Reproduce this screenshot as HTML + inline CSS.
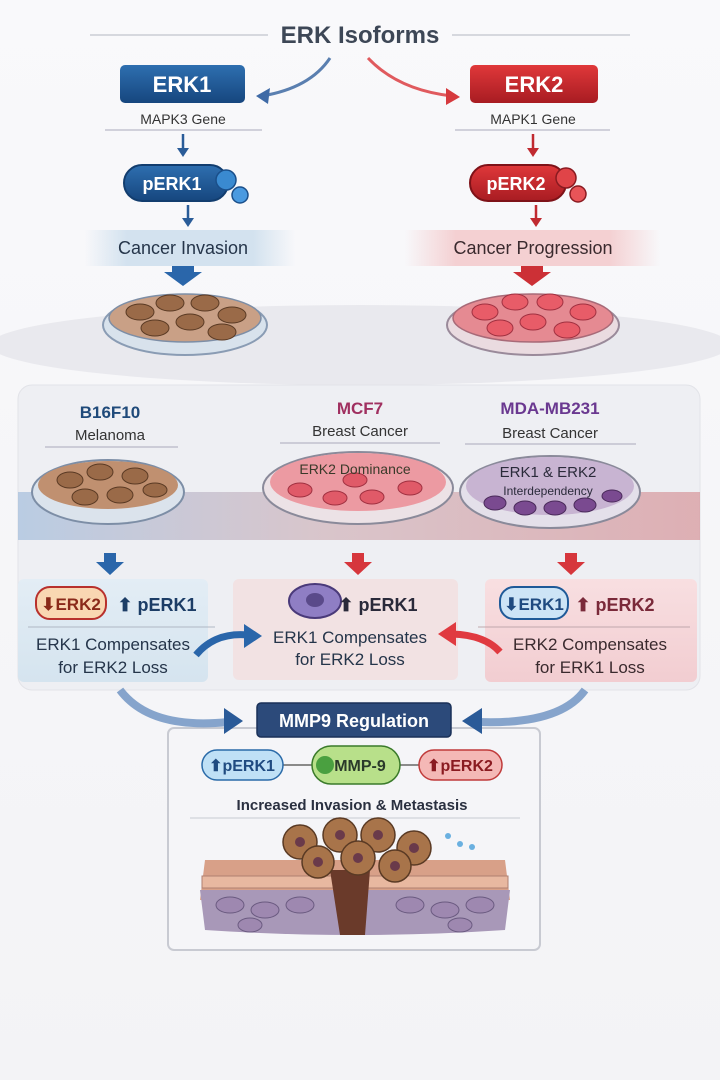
<!DOCTYPE html>
<html><head><meta charset="utf-8"><style>
html,body{margin:0;padding:0;background:#f7f7f9;}
svg{display:block;font-family:"Liberation Sans",sans-serif;}
</style></head><body>
<svg width="720" height="1080" viewBox="0 0 720 1080" xmlns="http://www.w3.org/2000/svg">
<defs>
<linearGradient id="bg" x1="0" y1="0" x2="0" y2="1"><stop offset="0" stop-color="#f9f9fb"/><stop offset="1" stop-color="#f3f3f6"/></linearGradient>
<linearGradient id="blueBtn" x1="0" y1="0" x2="0" y2="1"><stop offset="0" stop-color="#2e6fb0"/><stop offset="1" stop-color="#16467e"/></linearGradient>
<linearGradient id="redBtn" x1="0" y1="0" x2="0" y2="1"><stop offset="0" stop-color="#e0383a"/><stop offset="1" stop-color="#a81c22"/></linearGradient>
<linearGradient id="bandB" x1="0" y1="0" x2="1" y2="0"><stop offset="0" stop-color="#d3e2ef" stop-opacity="0"/><stop offset="0.2" stop-color="#d3e2ef"/><stop offset="0.8" stop-color="#d3e2ef"/><stop offset="1" stop-color="#d3e2ef" stop-opacity="0"/></linearGradient>
<linearGradient id="bandR" x1="0" y1="0" x2="1" y2="0"><stop offset="0" stop-color="#f4d0d2" stop-opacity="0"/><stop offset="0.2" stop-color="#f4d0d2"/><stop offset="0.8" stop-color="#f4d0d2"/><stop offset="1" stop-color="#f4d0d2" stop-opacity="0"/></linearGradient>
<linearGradient id="tex" x1="0" y1="0" x2="1" y2="0"><stop offset="0" stop-color="#8fb0d6"/><stop offset="0.45" stop-color="#c8a3aa"/><stop offset="1" stop-color="#d07b80"/></linearGradient>
<linearGradient id="boxL" x1="0" y1="0" x2="0" y2="1"><stop offset="0" stop-color="#e3edf5"/><stop offset="1" stop-color="#d5e4ef"/></linearGradient>
<linearGradient id="boxR" x1="0" y1="0" x2="0" y2="1"><stop offset="0" stop-color="#f8dfe1"/><stop offset="1" stop-color="#f2cdd1"/></linearGradient>
</defs>
<rect width="720" height="1080" fill="url(#bg)"/>

<!-- title -->
<line x1="90" y1="35" x2="268" y2="35" stroke="#d6d8de" stroke-width="2"/>
<line x1="452" y1="35" x2="630" y2="35" stroke="#d6d8de" stroke-width="2"/>
<text x="360" y="43" text-anchor="middle" font-size="24" font-weight="bold" fill="#3d4756">ERK Isoforms</text>
<path d="M330 58 Q310 88 262 96" fill="none" stroke="#5a7fb0" stroke-width="3"/>
<polygon points="256,96 270,88 268,104" fill="#3f6aa6"/>
<path d="M368 58 Q398 90 452 96" fill="none" stroke="#e05a5e" stroke-width="3"/>
<polygon points="460,97 446,88 446,105" fill="#d63a3e"/>

<!-- ERK1/ERK2 -->
<rect x="120" y="65" width="125" height="38" rx="5" fill="url(#blueBtn)"/>
<text x="182" y="92" text-anchor="middle" font-size="22" font-weight="bold" fill="#fff">ERK1</text>
<rect x="470" y="65" width="128" height="38" rx="5" fill="url(#redBtn)"/>
<text x="534" y="92" text-anchor="middle" font-size="22" font-weight="bold" fill="#fff">ERK2</text>
<text x="183" y="124" text-anchor="middle" font-size="14" fill="#333">MAPK3 Gene</text>
<line x1="105" y1="130" x2="262" y2="130" stroke="#aab" stroke-width="1"/>
<text x="533" y="124" text-anchor="middle" font-size="14" fill="#333">MAPK1 Gene</text>
<line x1="455" y1="130" x2="610" y2="130" stroke="#aab" stroke-width="1"/>
<line x1="183" y1="134" x2="183" y2="150" stroke="#2a5c98" stroke-width="2.5"/><polygon points="177,148 189,148 183,157" fill="#2a5c98"/>
<line x1="533" y1="134" x2="533" y2="150" stroke="#c02a30" stroke-width="2.5"/><polygon points="527,148 539,148 533,157" fill="#c02a30"/>

<!-- pERK -->
<rect x="124" y="165" width="104" height="36" rx="18" fill="url(#blueBtn)" stroke="#123d6e" stroke-width="2"/>
<text x="172" y="190" text-anchor="middle" font-size="18" font-weight="bold" fill="#fff">pERK1</text>
<circle cx="226" cy="180" r="10" fill="#3a8ad0" stroke="#1a4f8a" stroke-width="1.5"/>
<circle cx="240" cy="195" r="8" fill="#4a9ae0" stroke="#1a4f8a" stroke-width="1.5"/>
<rect x="470" y="165" width="96" height="36" rx="18" fill="url(#redBtn)" stroke="#7e1218" stroke-width="2"/>
<text x="516" y="190" text-anchor="middle" font-size="18" font-weight="bold" fill="#fff">pERK2</text>
<circle cx="566" cy="178" r="10" fill="#e04448" stroke="#8a1a20" stroke-width="1.5"/>
<circle cx="578" cy="194" r="8" fill="#e85458" stroke="#8a1a20" stroke-width="1.5"/>
<line x1="188" y1="205" x2="188" y2="220" stroke="#2a5c98" stroke-width="2.5"/><polygon points="182,218 194,218 188,227" fill="#2a5c98"/>
<line x1="536" y1="205" x2="536" y2="220" stroke="#c02a30" stroke-width="2.5"/><polygon points="530,218 542,218 536,227" fill="#c02a30"/>

<!-- bands -->
<rect x="85" y="230" width="210" height="36" fill="url(#bandB)"/>
<text x="183" y="254" text-anchor="middle" font-size="18" fill="#25354a">Cancer Invasion</text>
<rect x="405" y="230" width="255" height="36" fill="url(#bandR)"/>
<text x="533" y="254" text-anchor="middle" font-size="18" fill="#3a2a2e">Cancer Progression</text>
<polygon points="172,266 194,266 194,272 202,272 183,286 164,272 172,272" fill="#2a66aa"/>
<polygon points="521,266 543,266 543,272 551,272 532,286 513,272 521,272" fill="#cc3036"/>

<!-- dish band -->
<ellipse cx="360" cy="345" rx="370" ry="40" fill="#e9e9ee"/>
<ellipse cx="185" cy="325" rx="82" ry="30" fill="#d8e2ec" stroke="#8a9cb4" stroke-width="2"/>
<ellipse cx="185" cy="318" rx="76" ry="24" fill="#c9a086" stroke="#7d8ea6" stroke-width="1.5"/>
<g fill="#9a6a48" stroke="#5a3a24" stroke-width="1">
<ellipse cx="140" cy="312" rx="14" ry="8"/><ellipse cx="170" cy="303" rx="14" ry="8"/><ellipse cx="205" cy="303" rx="14" ry="8"/><ellipse cx="232" cy="315" rx="14" ry="8"/><ellipse cx="155" cy="328" rx="14" ry="8"/><ellipse cx="190" cy="322" rx="14" ry="8"/><ellipse cx="222" cy="332" rx="14" ry="8"/></g>
<ellipse cx="533" cy="325" rx="86" ry="30" fill="#eadbe0" stroke="#9a8a9a" stroke-width="2"/>
<ellipse cx="533" cy="318" rx="80" ry="24" fill="#e58a92" stroke="#a86a78" stroke-width="1.5"/>
<g fill="#e85c68" stroke="#a03040" stroke-width="1">
<ellipse cx="485" cy="312" rx="13" ry="8"/><ellipse cx="515" cy="302" rx="13" ry="8"/><ellipse cx="550" cy="302" rx="13" ry="8"/><ellipse cx="583" cy="312" rx="13" ry="8"/><ellipse cx="500" cy="328" rx="13" ry="8"/><ellipse cx="533" cy="322" rx="13" ry="8"/><ellipse cx="567" cy="330" rx="13" ry="8"/></g>

<!-- panel -->
<rect x="18" y="385" width="682" height="305" rx="14" fill="#eeeff3" stroke="#e2e3e8"/>
<text x="110" y="418" text-anchor="middle" font-size="17" font-weight="bold" fill="#1f4a7a">B16F10</text>
<text x="110" y="440" text-anchor="middle" font-size="15" fill="#333">Melanoma</text>
<line x1="45" y1="447" x2="178" y2="447" stroke="#aab" />
<text x="360" y="414" text-anchor="middle" font-size="17" font-weight="bold" fill="#a03060">MCF7</text>
<text x="360" y="436" text-anchor="middle" font-size="15" fill="#333">Breast Cancer</text>
<line x1="280" y1="443" x2="440" y2="443" stroke="#aab" />
<text x="550" y="414" text-anchor="middle" font-size="17" font-weight="bold" fill="#6a3890">MDA-MB231</text>
<text x="550" y="438" text-anchor="middle" font-size="15" fill="#333">Breast Cancer</text>
<line x1="465" y1="444" x2="636" y2="444" stroke="#aab" />
<rect x="18" y="492" width="682" height="48" fill="url(#tex)" opacity="0.55"/>
<ellipse cx="108" cy="492" rx="76" ry="32" fill="#dbe3ec" stroke="#7d8ea6" stroke-width="2"/>
<ellipse cx="108" cy="485" rx="70" ry="24" fill="#c09070"/>
<g fill="#9a6a48" stroke="#5a3a24"><ellipse cx="70" cy="480" rx="13" ry="8"/><ellipse cx="100" cy="472" rx="13" ry="8"/><ellipse cx="135" cy="476" rx="13" ry="8"/><ellipse cx="85" cy="497" rx="13" ry="8"/><ellipse cx="120" cy="495" rx="13" ry="8"/><ellipse cx="155" cy="490" rx="12" ry="7"/></g>
<ellipse cx="358" cy="488" rx="95" ry="36" fill="#ece2e6" stroke="#8a8a9a" stroke-width="2"/>
<ellipse cx="358" cy="482" rx="88" ry="29" fill="#ec9aa2"/>
<g fill="#e05a68" stroke="#a03040"><ellipse cx="300" cy="490" rx="12" ry="7"/><ellipse cx="335" cy="498" rx="12" ry="7"/><ellipse cx="372" cy="497" rx="12" ry="7"/><ellipse cx="410" cy="488" rx="12" ry="7"/><ellipse cx="355" cy="480" rx="12" ry="7"/></g>
<text x="355" y="474" text-anchor="middle" font-size="14" fill="#3a3a2a">ERK2 Dominance</text>
<ellipse cx="550" cy="492" rx="90" ry="36" fill="#e4e0ea" stroke="#8a8a9a" stroke-width="2"/>
<ellipse cx="550" cy="486" rx="84" ry="29" fill="#c8b4d2"/>
<g fill="#7a4a90" stroke="#4a2a5a"><ellipse cx="495" cy="503" rx="11" ry="7"/><ellipse cx="525" cy="508" rx="11" ry="7"/><ellipse cx="555" cy="508" rx="11" ry="7"/><ellipse cx="585" cy="505" rx="11" ry="7"/><ellipse cx="612" cy="496" rx="10" ry="6"/></g>
<text x="548" y="477" text-anchor="middle" font-size="15" fill="#2a2a3a">ERK1 &amp; ERK2</text>
<text x="548" y="495" text-anchor="middle" font-size="12" fill="#2a2a3a">Interdependency</text>
<polygon points="104,553 116,553 116,562 124,562 110,575 96,562 104,562" fill="#2a66aa"/>
<polygon points="352,553 364,553 364,562 372,562 358,575 344,562 352,562" fill="#d6363c"/>
<polygon points="565,553 577,553 577,562 585,562 571,575 557,562 565,562" fill="#d6363c"/>

<!-- boxes -->
<rect x="18" y="579" width="190" height="103" rx="6" fill="url(#boxL)"/>
<rect x="36" y="587" width="70" height="32" rx="14" fill="#f9d7b2" stroke="#b8302c" stroke-width="2"/>
<text x="71" y="610" text-anchor="middle" font-size="17" font-weight="bold" fill="#8a2a1a">⬇ERK2</text>
<text x="157" y="611" text-anchor="middle" font-size="18" font-weight="bold" fill="#1c3d66">⬆ pERK1</text>
<line x1="28" y1="627" x2="215" y2="627" stroke="#b0b8c4"/>
<text x="113" y="650" text-anchor="middle" font-size="17" fill="#25354a">ERK1 Compensates</text>
<text x="113" y="673" text-anchor="middle" font-size="17" fill="#25354a">for ERK2 Loss</text>
<rect x="233" y="579" width="225" height="101" rx="6" fill="#f2e2e3"/>
<ellipse cx="315" cy="601" rx="26" ry="17" fill="#8f7ec4" stroke="#4a3a7a" stroke-width="2"/>
<ellipse cx="315" cy="600" rx="9" ry="7" fill="#5a4a8a"/>
<text x="378" y="611" text-anchor="middle" font-size="18" font-weight="bold" fill="#2a2a3a">⬆ pERK1</text>
<text x="350" y="643" text-anchor="middle" font-size="17" fill="#25354a">ERK1 Compensates</text>
<text x="350" y="665" text-anchor="middle" font-size="17" fill="#25354a">for ERK2 Loss</text>
<rect x="485" y="579" width="212" height="103" rx="6" fill="url(#boxR)"/>
<rect x="500" y="587" width="68" height="32" rx="14" fill="#cde4f6" stroke="#1f5a98" stroke-width="2"/>
<text x="534" y="610" text-anchor="middle" font-size="17" font-weight="bold" fill="#1f4a80">⬇ERK1</text>
<text x="615" y="611" text-anchor="middle" font-size="18" font-weight="bold" fill="#7a2a3a">⬆ pERK2</text>
<line x1="478" y1="627" x2="690" y2="627" stroke="#c0a8ac"/>
<text x="590" y="650" text-anchor="middle" font-size="17" fill="#3a2a2e">ERK2 Compensates</text>
<text x="590" y="673" text-anchor="middle" font-size="17" fill="#3a2a2e">for ERK1 Loss</text>
<path d="M196 655 Q215 632 248 635" fill="none" stroke="#2a66aa" stroke-width="7"/>
<polygon points="262,636 244,624 244,648" fill="#2a66aa"/>
<path d="M500 652 Q485 635 452 634" fill="none" stroke="#e03a40" stroke-width="7"/>
<polygon points="438,634 456,622 456,646" fill="#e03a40"/>

<!-- MMP9 -->
<rect x="168" y="728" width="372" height="222" rx="6" fill="#f5f5f8" stroke="#c8cad2" stroke-width="2"/>
<path d="M120 690 Q150 730 228 722" fill="none" stroke="#6a90c0" stroke-width="8" opacity="0.8"/>
<polygon points="243,721 224,708 224,734" fill="#2a5a98"/>
<path d="M585 690 Q560 725 478 722" fill="none" stroke="#6a90c0" stroke-width="8" opacity="0.8"/>
<polygon points="462,721 482,708 482,734" fill="#2a5a98"/>
<rect x="257" y="703" width="194" height="34" rx="4" fill="#2c4a7a" stroke="#1a3058" stroke-width="1.5"/>
<text x="354" y="727" text-anchor="middle" font-size="18" font-weight="bold" fill="#fff">MMP9 Regulation</text>
<line x1="280" y1="765" x2="420" y2="765" stroke="#666" stroke-width="1.5"/>
<rect x="202" y="750" width="81" height="30" rx="15" fill="#bfe0f6" stroke="#2a6aa8" stroke-width="1.5"/>
<text x="242" y="771" text-anchor="middle" font-size="16" font-weight="bold" fill="#1f4a80">⬆pERK1</text>
<rect x="312" y="746" width="88" height="38" rx="19" fill="#b8e08a" stroke="#3a7a2a" stroke-width="1.5"/>
<circle cx="325" cy="765" r="9" fill="#4aa040"/>
<text x="360" y="771" text-anchor="middle" font-size="16" font-weight="bold" fill="#2a3a2a">MMP-9</text>
<rect x="419" y="750" width="83" height="30" rx="15" fill="#f4b8b6" stroke="#c03a3a" stroke-width="1.5"/>
<text x="460" y="771" text-anchor="middle" font-size="16" font-weight="bold" fill="#8a1a20">⬆pERK2</text>
<text x="352" y="810" text-anchor="middle" font-size="15" font-weight="bold" fill="#2a3040">Increased Invasion &amp; Metastasis</text>
<line x1="190" y1="818" x2="520" y2="818" stroke="#c8cad2"/>

<!-- tissue -->
<path d="M205 860 L505 860 L510 900 L200 900 Z" fill="#d8a088"/>
<rect x="202" y="876" width="306" height="12" fill="#e8b8a0" stroke="#b08070"/>
<path d="M200 890 L510 890 L505 930 Q355 940 205 930 Z" fill="#a898b8"/>
<g fill="#9e88b0" stroke="#6a5a80"><ellipse cx="230" cy="905" rx="14" ry="8"/><ellipse cx="265" cy="910" rx="14" ry="8"/><ellipse cx="300" cy="905" rx="14" ry="8"/><ellipse cx="410" cy="905" rx="14" ry="8"/><ellipse cx="445" cy="910" rx="14" ry="8"/><ellipse cx="480" cy="905" rx="14" ry="8"/><ellipse cx="250" cy="925" rx="12" ry="7"/><ellipse cx="460" cy="925" rx="12" ry="7"/></g>
<path d="M330 870 L370 870 L365 935 L340 935 Z" fill="#6a3a2a"/>
<g fill="#a8744a" stroke="#5a3a24" stroke-width="1.5"><circle cx="300" cy="842" r="17"/><circle cx="340" cy="835" r="17"/><circle cx="378" cy="835" r="17"/><circle cx="414" cy="848" r="17"/><circle cx="318" cy="862" r="16"/><circle cx="358" cy="858" r="17"/><circle cx="395" cy="866" r="16"/></g>
<g fill="#6a3a4a"><circle cx="300" cy="842" r="5"/><circle cx="340" cy="835" r="5"/><circle cx="378" cy="835" r="5"/><circle cx="414" cy="848" r="5"/><circle cx="318" cy="862" r="5"/><circle cx="358" cy="858" r="5"/><circle cx="395" cy="866" r="5"/></g>
<g fill="#6ab0e0"><circle cx="448" cy="836" r="3"/><circle cx="460" cy="844" r="3"/><circle cx="472" cy="847" r="3"/></g>
</svg>
</body></html>
